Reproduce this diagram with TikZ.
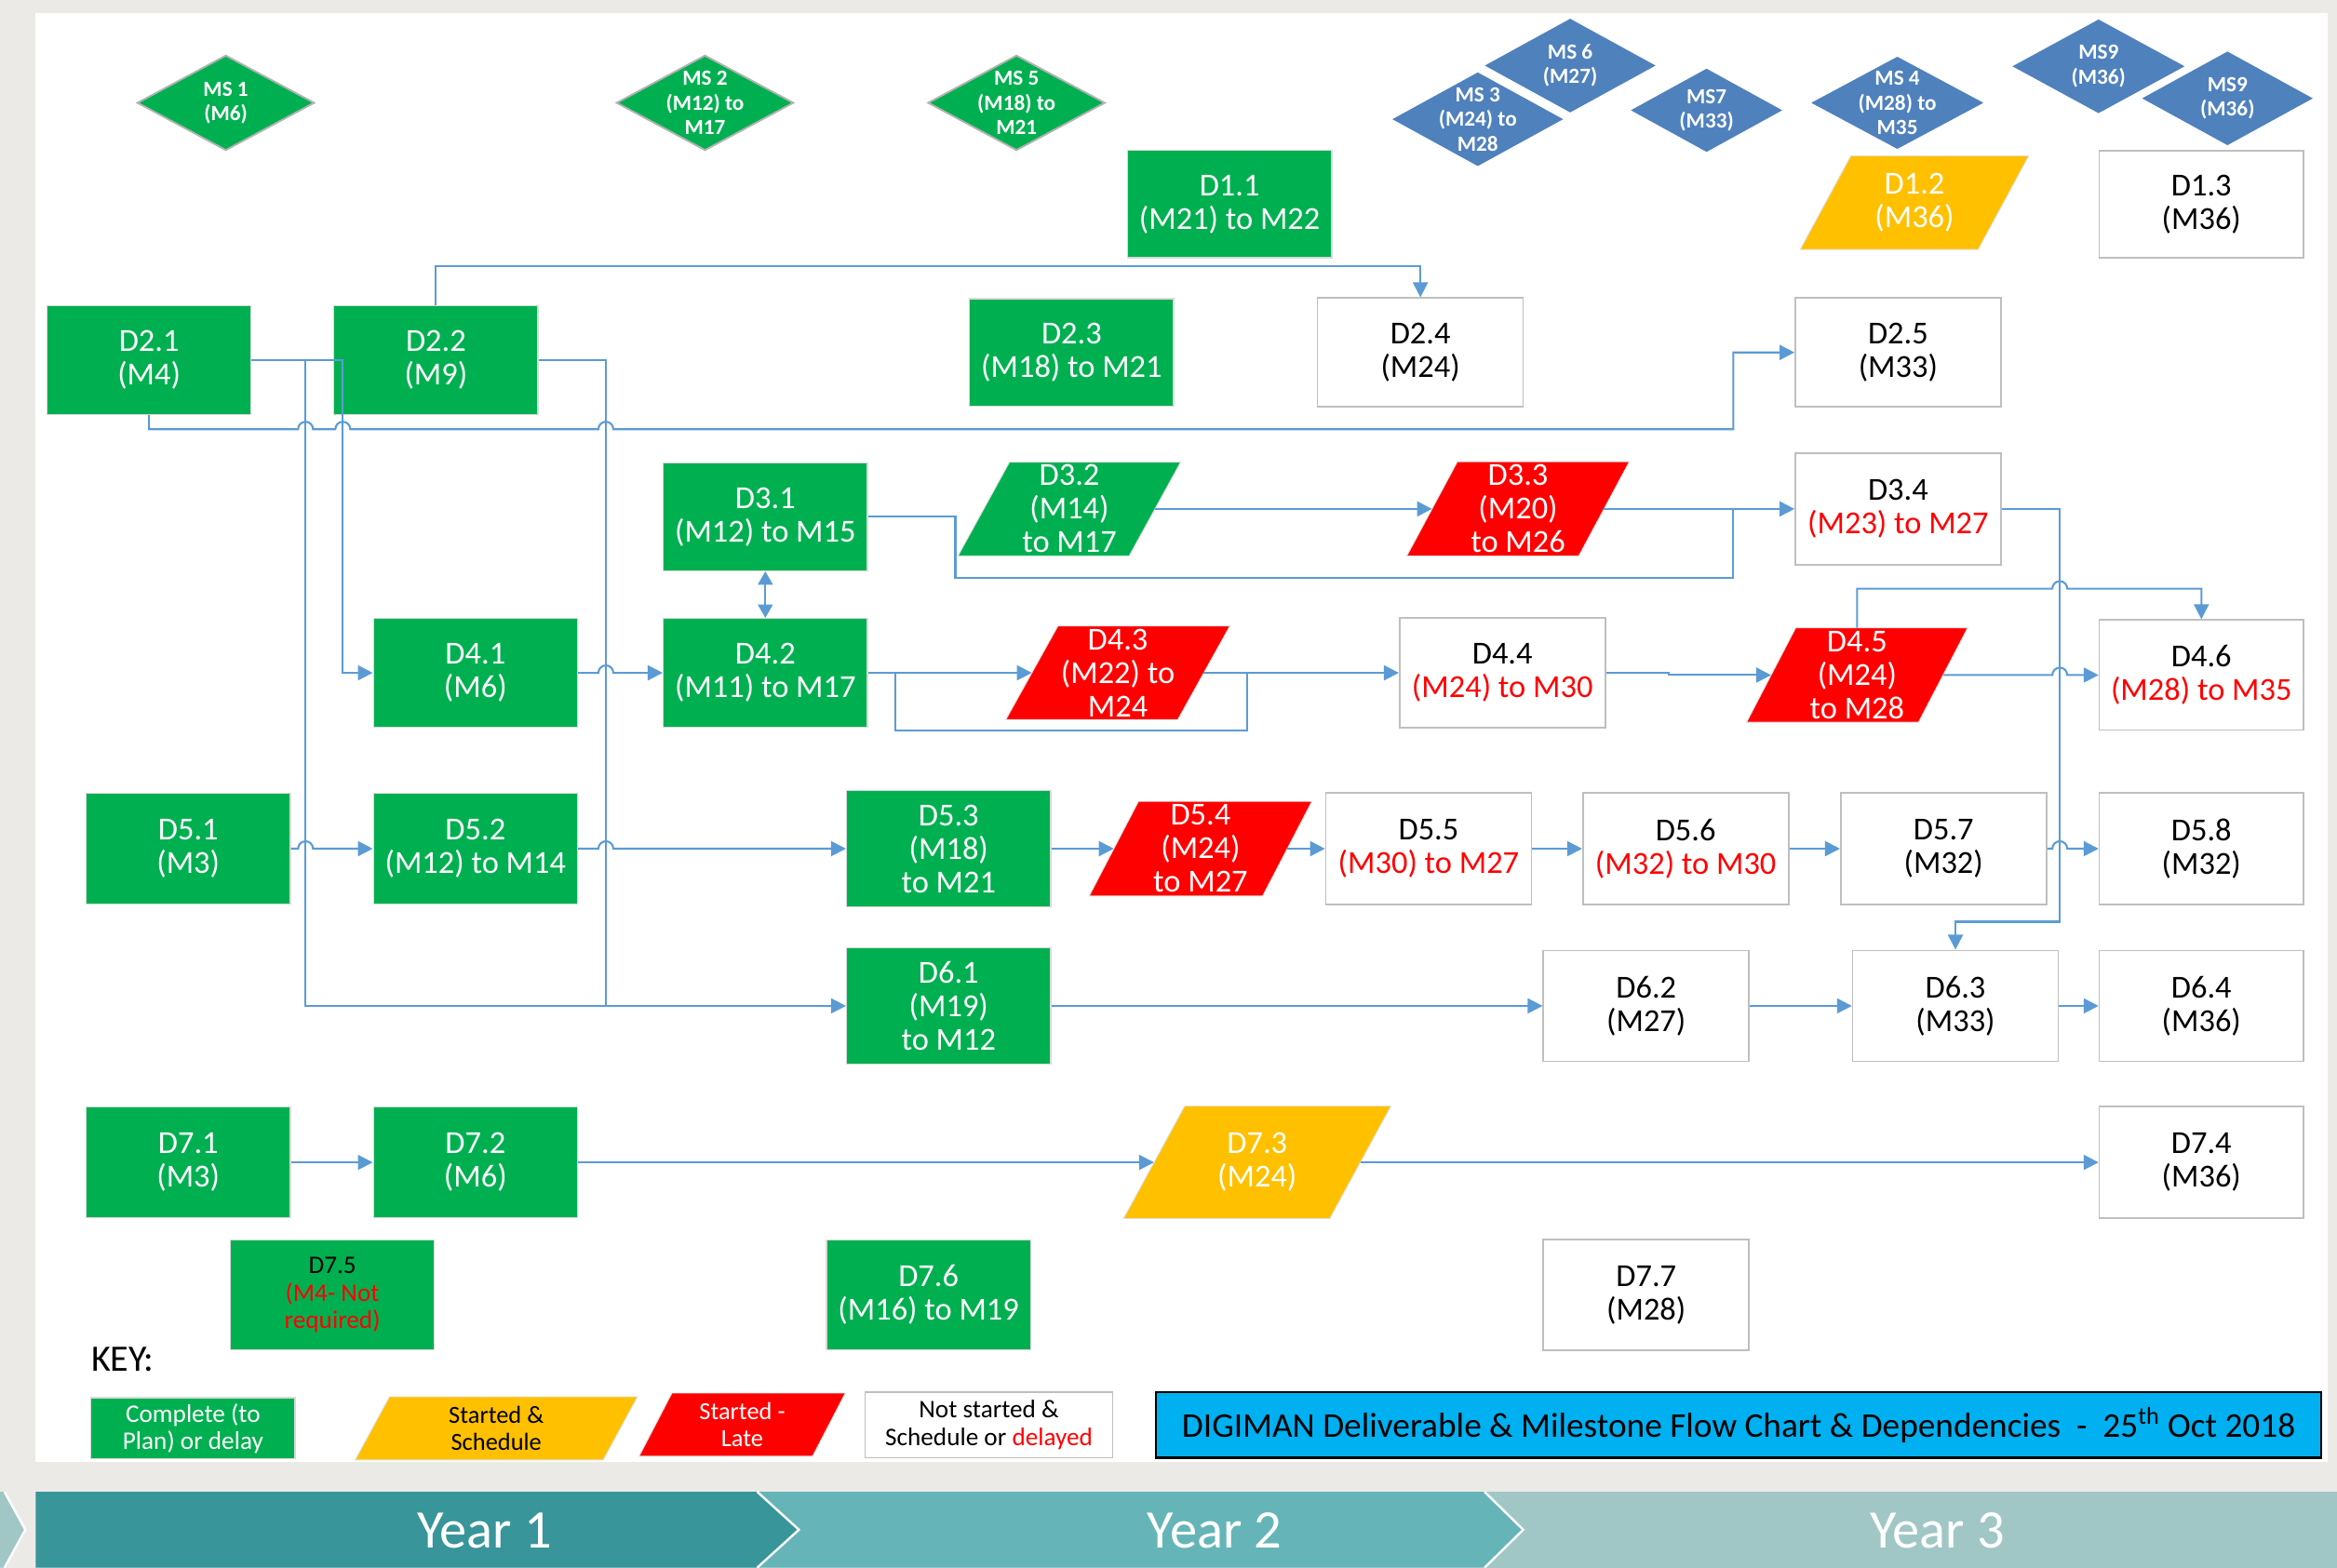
\documentclass[tikz,border=0pt]{standalone}
\usepackage{fontspec}
\setmainfont{Carlito}
\usetikzlibrary{arrows.meta,calc,backgrounds}
\definecolor{cgreen}{HTML}{00B050}
\definecolor{cred}{HTML}{FF0000}
\definecolor{cyellow}{HTML}{FFC000}
\definecolor{cdia}{HTML}{4F81BD}
\definecolor{cblue}{HTML}{5B9BD5}
\definecolor{ctitle}{HTML}{00B0F0}
\definecolor{cbg}{HTML}{EBEAE6}
\definecolor{cyA}{HTML}{389599}
\definecolor{cyB}{HTML}{65B5B8}
\definecolor{cyC}{HTML}{A0C7C6}
% parallelogram fill: node, half slant, colour
\newcommand{\pfill}[3]{\filldraw[fill=#3,draw=black!12,line width=0.6pt] ($(#1.south west)+(-#2,0)$) -- ($(#1.north west)+(#2,0)$) -- ($(#1.north east)+(#2,0)$) -- ($(#1.south east)+(-#2,0)$) -- cycle;}
% diamond fill: node, fill, draw
\newcommand{\dfill}[3]{\filldraw[fill=#2,draw=#3,line width=1.2pt] (#1.north) -- (#1.east) -- (#1.south) -- (#1.west) -- cycle;}
\begin{document}
\begin{tikzpicture}[x=1pt,y=-1pt,
 base/.style={inner sep=0pt, align=center, font=\fontsize{21.5}{22.5}\selectfont},
 gbox/.style={base, fill=cgreen, draw=black!15, line width=0.8pt, text=white, minimum width=137pt, minimum height=73pt},
 wbox/.style={base, fill=white, draw=black!25, line width=1pt, minimum width=137pt, minimum height=74pt},
 pnode/.style={base, text=white, minimum height=63pt, minimum width=115pt},
 dnode/.style={inner sep=0pt, align=center, font=\bfseries\fontsize{14.5}{16.5}\selectfont, text=white, minimum width=118pt, minimum height=63pt},
 conn/.style={draw=cblue, line width=1.3pt},
 arr/.style={conn, -{Triangle[length=10pt,width=10pt]}},
 dbl/.style={conn, {Triangle[length=9pt,width=10pt]}-{Triangle[length=9pt,width=10pt]}},
 yr/.style={text=white, font=\fontsize{36.5}{40}\selectfont, inner sep=0pt},
]
\useasboundingbox (0,0) rectangle (1568,1052);
\begin{scope}[on background layer]
\fill[cbg] (0,0) rectangle (1568,1052);
\fill[white] (24,9) rectangle (1562,981);
\fill[cyC] (996,1001) -- (1568,1001) -- (1568,1052) -- (996,1052) -- cycle;
\fill[cyB] (508,1001) -- (996,1001) -- (1022,1026.5) -- (996,1052) -- (508,1052) -- cycle;
\fill[cyA] (24,1001) -- (508,1001) -- (536,1026.5) -- (508,1052) -- (24,1052) -- cycle;
\draw[white, line width=1.5pt] (508,1001) -- (536,1026.5) -- (508,1052);
\draw[white, line width=1.5pt] (996,1001) -- (1022,1026.5) -- (996,1052);
\fill[cyC] (0,1001) -- (3,1001) -- (17,1026.5) -- (3,1052) -- (0,1052) -- cycle;
\draw[white, line width=1.5pt] (3,1001) -- (17,1026.5) -- (3,1052);
\end{scope}

% milestones
\node[dnode] (ms1) at (151.5,69) {MS 1\\(M6)};
\node[dnode] (ms2) at (473,69) {MS 2\\(M12) to\\M17};
\node[dnode] (ms5) at (682,69) {MS 5\\(M18) to\\M21};
\node[dnode, minimum width=117pt, minimum height=64pt] (ms6) at (1053.5,44) {MS 6\\(M27)};
\node[dnode, minimum width=117pt, minimum height=64pt] (ms3) at (991.5,80) {MS 3\\(M24) to\\M28};
\node[dnode, minimum width=104pt, minimum height=57pt] (ms7) at (1145,74) {MS7\\(M33)};
\node[dnode] (ms4) at (1273,69) {MS 4\\(M28) to\\M35};
\node[dnode, minimum height=64pt] (ms9a) at (1408,44.5) {MS9\\(M36)};
\node[dnode, minimum width=117pt, minimum height=64pt] (ms9b) at (1494.5,66) {MS9\\(M36)};
\begin{scope}[on background layer]
\dfill{ms1}{cgreen}{black!30}
\dfill{ms2}{cgreen}{black!30}
\dfill{ms5}{cgreen}{black!30}
\dfill{ms6}{cdia}{white}
\dfill{ms3}{cdia}{white}
\dfill{ms7}{cdia}{white}
\dfill{ms4}{cdia}{white}
\dfill{ms9a}{cdia}{white}
\dfill{ms9b}{cdia}{white}
\end{scope}

% row 1
\node[gbox, minimum height=72pt] (d11) at (825,137) {D1.1\\(M21) to M22};
\node[pnode, minimum width=119pt, minimum height=62.5pt] (d12) at (1284.5,136) {D1.2\\(M36)};
\node[wbox, minimum height=72pt] (d13) at (1477,137) {D1.3\\(M36)};
% row 2
\node[gbox] (d21) at (100,241.5) {D2.1\\(M4)};
\node[gbox] (d22) at (292.5,241.5) {D2.2\\(M9)};
\node[gbox, minimum height=72pt] (d23) at (719,236.5) {D2.3\\(M18) to M21};
\node[wbox, minimum width=138pt, minimum height=73pt] (d24) at (953,236.5) {D2.4\\(M24)};
\node[wbox, minimum width=138pt, minimum height=73pt] (d25) at (1273.5,236.5) {D2.5\\(M33)};
% row 3
\node[gbox, minimum height=72.5pt] (d31) at (513.5,346.75) {D3.1\\(M12) to M15};
\node[pnode, minimum width=114.5pt, minimum height=62.5pt] (d32) at (717.5,341.5) {D3.2\\(M14)\\to M17};
\node[pnode] (d33) at (1018.5,341.5) {D3.3\\(M20)\\to M26};
\node[wbox, minimum width=138pt, minimum height=75pt] (d34) at (1273.5,341.5) {D3.4\\\textcolor{cred}{(M23) to M27}};
% row 4
\node[gbox] (d41) at (319,451.5) {D4.1\\(M6)};
\node[gbox] (d42) at (513.5,451.5) {D4.2\\(M11) to M17};
\node[pnode, minimum height=62.5pt] (d43) at (750,451.5) {D4.3\\(M22) to\\M24};
\node[wbox, minimum width=138pt] (d44) at (1008,451.5) {D4.4\\\textcolor{cred}{(M24) to M30}};
\node[pnode] (d45) at (1246,453) {D4.5\\(M24)\\to M28};
\node[wbox] (d46) at (1477,453) {D4.6\\\textcolor{cred}{(M28) to M35}};
% row 5
\node[gbox, minimum height=74pt] (d51) at (126.3,569.5) {D5.1\\(M3)};
\node[gbox, minimum height=74pt] (d52) at (319,569.5) {D5.2\\(M12) to M14};
\node[gbox, minimum height=78pt] (d53) at (636.5,569.5) {D5.3\\(M18)\\to M21};
\node[pnode, minimum width=116pt] (d54) at (805.5,569.5) {D5.4\\(M24)\\to M27};
\node[wbox, minimum width=138pt, minimum height=75pt] (d55) at (958.5,569.5) {D5.5\\\textcolor{cred}{(M30) to M27}};
\node[wbox, minimum width=138pt, minimum height=75pt] (d56) at (1131,569.5) {D5.6\\\textcolor{cred}{(M32) to M30}};
\node[wbox, minimum width=138pt, minimum height=75pt] (d57) at (1304,569.5) {D5.7\\(M32)};
\node[wbox, minimum height=75pt] (d58) at (1477,569.5) {D5.8\\(M32)};
% row 6
\node[gbox, minimum height=78pt] (d61) at (636.5,675) {D6.1\\(M19)\\to M12};
\node[wbox, minimum width=138pt, minimum height=74.5pt] (d62) at (1104.5,675) {D6.2\\(M27)};
\node[wbox, minimum width=138pt, minimum height=74.5pt] (d63) at (1312,675) {D6.3\\(M33)};
\node[wbox, minimum height=74.5pt] (d64) at (1477,675) {D6.4\\(M36)};
% row 7
\node[gbox, minimum height=74pt] (d71) at (126.3,780) {D7.1\\(M3)};
\node[gbox, minimum height=74pt] (d72) at (319,780) {D7.2\\(M6)};
\node[pnode, minimum width=138pt, minimum height=75pt] (d73) at (843.5,780) {D7.3\\(M24)};
\node[wbox, minimum height=75pt] (d74) at (1477,780) {D7.4\\(M36)};
\node[gbox, minimum height=73.5pt, text=black, font=\fontsize{17}{18.5}\selectfont] (d75) at (223,869) {D7.5\\\textcolor{cred}{(M4- Not}\\\textcolor{cred}{required)}};
\node[gbox, minimum height=73.5pt] (d76) at (623,869) {D7.6\\(M16) to M19};
\node[wbox, minimum width=138pt, minimum height=74.5pt] (d77) at (1104.5,869) {D7.7\\(M28)};

% key
\node[anchor=west, inner sep=0pt, font=\fontsize{25}{28}\selectfont] (key) at (61,912) {KEY:};
\node[gbox, minimum height=41pt, font=\fontsize{17}{18}\selectfont] (kg) at (129.5,958.5) {Complete (to\\Plan) or delay};
\node[pnode, minimum width=166pt, minimum height=42pt, text=black, font=\fontsize{16.5}{18}\selectfont] (ky) at (333,958.5) {Started \&\\Schedule};
\node[pnode, minimum width=116pt, minimum height=42pt, font=\fontsize{16.5}{18}\selectfont] (kr) at (498,956) {Started -\\Late};
\node[wbox, minimum width=166pt, minimum height=44pt, font=\fontsize{17}{18.5}\selectfont] (kw) at (663.5,956.3) {Not started \&\\Schedule or \textcolor{cred}{delayed}};
\node[draw=black, line width=1.5pt, fill=ctitle, minimum width=782pt, minimum height=44pt, inner sep=0pt, font=\fontsize{23.3}{26}\selectfont] (title) at (1166.5,956.3) {DIGIMAN Deliverable \& Milestone Flow Chart \& Dependencies\ \ -\ \ 25\textsuperscript{th} Oct 2018};

\begin{scope}[on background layer]
\pfill{d12}{17}{cyellow}
\pfill{d32}{17.25}{cgreen}
\pfill{d33}{17}{cred}
\pfill{d43}{17.5}{cred}
\pfill{d45}{16.5}{cred}
\pfill{d54}{16.5}{cred}
\pfill{d73}{20.5}{cyellow}
\pfill{ky}{11.5}{cyellow}
\pfill{kr}{11}{cred}
\end{scope}

% years
\node[yr] (y1) at (325,1027) {Year 1};
\node[yr] (y2) at (815,1027) {Year 2};
\node[yr] (y3) at (1300,1027) {Year 3};

% connectors
\coordinate (j205) at (205,241.5);
\coordinate (j406) at (406.5,675);
\draw[arr] (d22.north) -- ++(0,-26) -| (d24.north);
\draw[arr] (d21.east) -- (230,241.5) |- (d41.west);
\draw[arr] (j205) |- (d61.west);
\draw[conn] (d22.east) -- (406.5,241.5) -- (j406);
\draw[arr] (d21.south) |- (200,288) arc[start angle=180,end angle=0,radius=5pt] -- (225,288) arc[start angle=180,end angle=0,radius=5pt] -- (401.5,288) arc[start angle=180,end angle=0,radius=5pt] -- (1163,288) |- (d25.west);
\draw[arr] (d41.east) -- (401.5,451.5) arc[start angle=180,end angle=0,radius=5pt] -- (d42.west);
\draw[dbl] (d31.south) -- (d42.north);
\draw[conn] (d31.east) -- (641,346.75) -- (641,387.5) -- (1163,387.5) -- (1163,341.5);
\draw[arr] (d32.east) -- (d33.west);
\draw[arr] (d33.east) -- (d34.west);
\draw[arr] (d34.east) -- (1382,341.5) -- (1382,618.5) -| (d63.north);
\draw[arr] (d42.east) -- (d43.west);
\draw[conn] (600.5,451.5) -- (600.5,490) -- (836.5,490) -- (836.5,451.5);
\draw[arr] (d43.east) -- (d44.west);
\draw[arr] (d44.east) -- (1119.5,451.5) |- (d45.west);
\draw[arr] (d45.east) -- (1377,453) arc[start angle=180,end angle=0,radius=5pt] -- (d46.west);
\draw[arr] (d45.north) |- (1377,395) arc[start angle=180,end angle=0,radius=5pt] -- (1387,395) -| (d46.north);
\draw[arr] (d51.east) -- (200,569.5) arc[start angle=180,end angle=0,radius=5pt] -- (d52.west);
\draw[arr] (d52.east) -- (401.5,569.5) arc[start angle=180,end angle=0,radius=5pt] -- (d53.west);
\draw[arr] (d53.east) -- (d54.west);
\draw[arr] (d54.east) -- (d55.west);
\draw[arr] (d55.east) -- (d56.west);
\draw[arr] (d56.east) -- (d57.west);
\draw[arr] (d57.east) -- (1377,569.5) arc[start angle=180,end angle=0,radius=5pt] -- (d58.west);
\draw[arr] (d61.east) -- (d62.west);
\draw[arr] (d62.east) -- (d63.west);
\draw[arr] (d63.east) -- (d64.west);
\draw[arr] (d71.east) -- (d72.west);
\draw[arr] (d72.east) -- (d73.west);
\draw[arr] (d73.east) -- (d74.west);
\end{tikzpicture}
\end{document}
